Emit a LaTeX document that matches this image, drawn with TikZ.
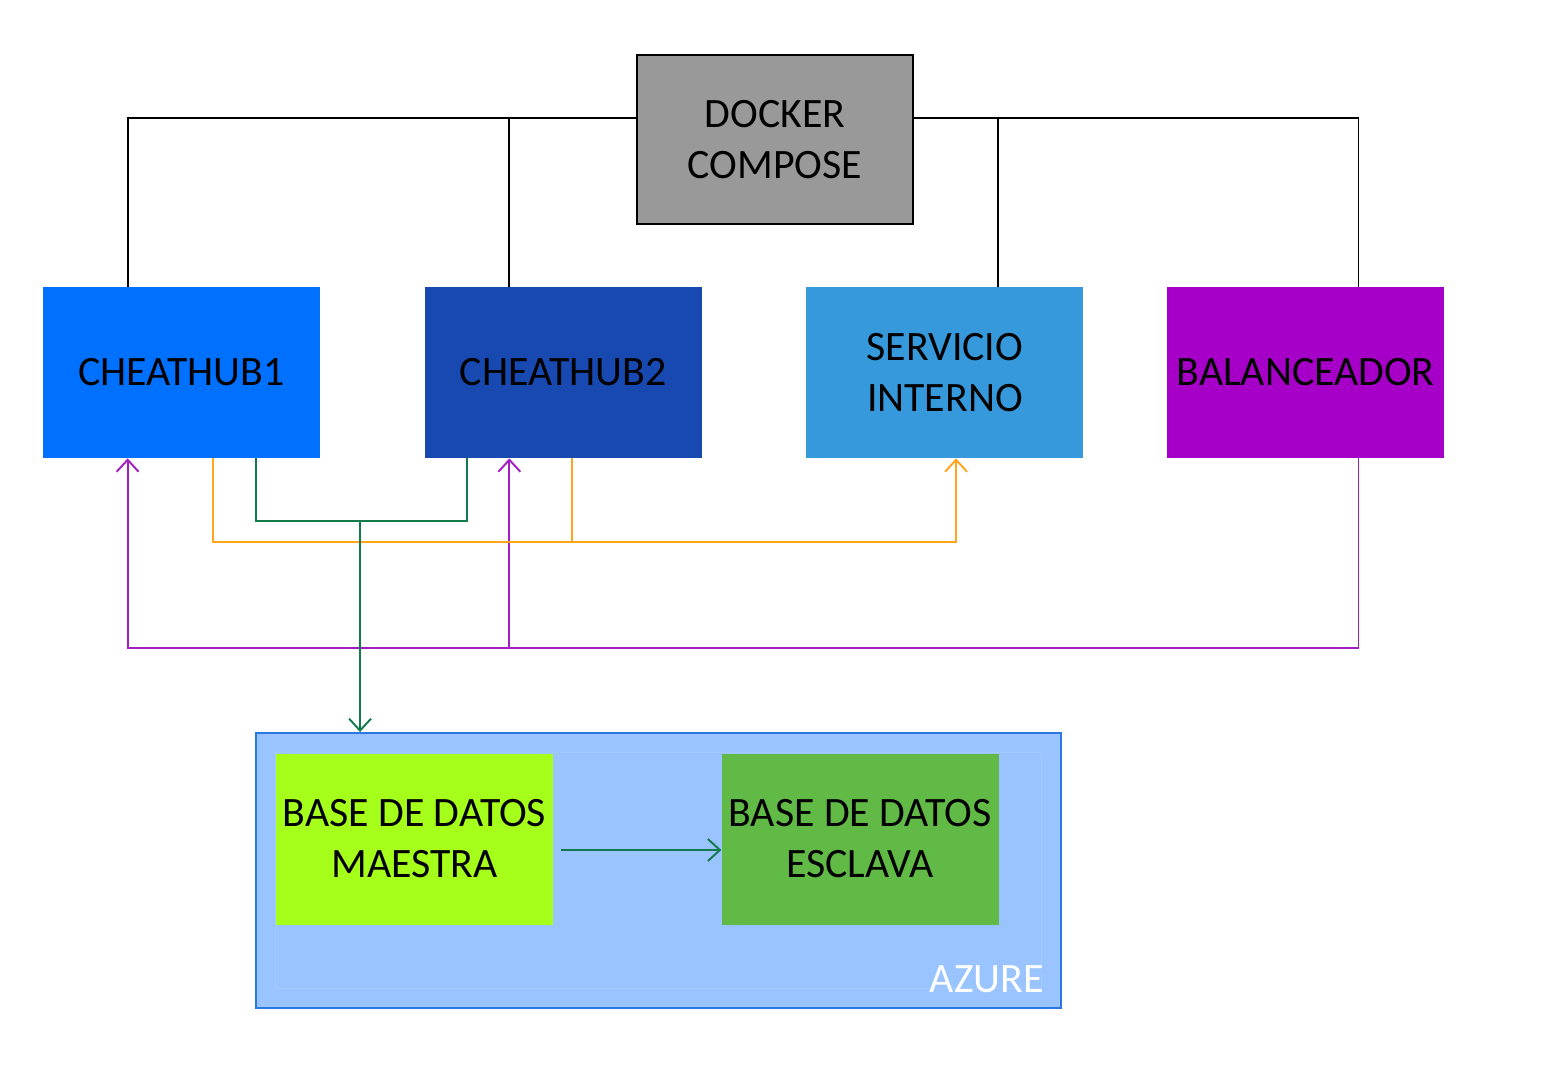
\documentclass[tikz,border=0pt]{standalone}
\usepackage{fontspec}
\setmainfont{Carlito}
\usepackage{xcolor}
\usetikzlibrary{positioning,arrows.meta}

\definecolor{dockergray}{HTML}{999999}
\definecolor{hubblue}{HTML}{0070FF}
\definecolor{hubdark}{HTML}{1749B0}
\definecolor{servblue}{HTML}{3599DB}
\definecolor{balpurple}{HTML}{A600C8}
\definecolor{azfill}{HTML}{99C4FF}
\definecolor{azborder}{HTML}{2A78E0}
\definecolor{azinner}{HTML}{A3CAFF}
\definecolor{maestragreen}{HTML}{A6FF1A}
\definecolor{esclavagreen}{HTML}{62BA46}
\definecolor{dbgreen}{HTML}{137A4B}
\definecolor{svorange}{HTML}{FFA51E}
\definecolor{lbpurple}{HTML}{A21EC4}

\begin{document}
\begin{tikzpicture}[
  box/.style={minimum width=5.54cm, minimum height=3.42cm, align=center,
    inner sep=0pt, font=\fontsize{23.8}{29}\selectfont},
  link/.style={draw=black, line width=1.1pt},
  dbline/.style={draw=dbgreen, line width=1.1pt},
  svline/.style={draw=svorange, line width=1.1pt},
  lbline/.style={draw=lbpurple, line width=1.1pt},
  tip/.style={-{Straight Barb[length=0.24cm,width=0.44cm]}}
]
  \useasboundingbox (0,0) rectangle (30.96,-21.5);

  \node[box, fill=dockergray, draw=black, line width=1.1pt,
    minimum width=5.52cm, minimum height=3.38cm] (docker) at (15.5,-2.79) {DOCKER\\COMPOSE};
  \node[box, fill=hubblue] (hub1) at (3.63,-7.45) {CHEATHUB1};
  \node[box, fill=hubdark, right=2.08cm of hub1] (hub2) {CHEATHUB2};
  \node[box, fill=servblue, right=2.08cm of hub2] (serv) {SERVICIO\\INTERNO};
  \node[box, fill=balpurple, right=1.66cm of serv] (bal) {BALANCEADOR};

  \node[fill=azfill, draw=azborder, line width=1.1pt,
    minimum width=16.1cm, minimum height=5.5cm] (azure) at (13.17,-17.41) {};
  \draw[azinner, line width=0.5pt] ([shift={(0.4,-0.4)}]azure.north west)
    rectangle ([shift={(-0.42,0.42)}]azure.south east);
  \node[box, fill=maestragreen] (maestra) at (8.29,-16.78) {BASE DE DATOS\\MAESTRA};
  \node[box, fill=esclavagreen, right=3.36cm of maestra] (esclava) {BASE DE DATOS\\ESCLAVA};
  \node[anchor=east, inner sep=0pt, text=white, font=\fontsize{23.8}{29}\selectfont]
    (azlabel) at ([xshift=-0.36cm, yshift=0.6cm]azure.south east) {AZURE};

  % docker compose
  \draw[link] ([yshift=0.43cm]docker.west) -| ([xshift=1.7cm]hub1.north west);
  \draw[link] ([xshift=1.7cm]hub2.north west) |- ([yshift=0.43cm]docker.west);
  \draw[link] ([yshift=0.43cm]docker.east) -| ([xshift=-1.72cm]bal.north east);
  \draw[link] ([xshift=-1.72cm]serv.north east) |- ([yshift=0.43cm]docker.east);

  % balanceador
  \coordinate (h1in) at ([xshift=1.7cm]hub1.south west);
  \coordinate (h2in) at ([xshift=1.7cm]hub2.south west);
  \coordinate (lbrun) at ([yshift=-3.8cm]h1in);
  \draw[lbline, tip] ([xshift=-1.72cm]bal.south east) -- ++(0,-3.8) -| (h1in);
  \draw[lbline, tip] (h2in |- lbrun) -- (h2in);

  % servicio interno
  \draw[svline, tip] ([xshift=3.4cm]hub1.south west) -- ++(0,-1.68) -| ([xshift=3cm]serv.south west);
  \draw[svline] ([xshift=2.96cm]hub2.south west) -- ++(0,-1.68);

  % base de datos
  \coordinate (gbus) at ([xshift=4.26cm, yshift=-1.26cm]hub1.south west);
  \coordinate (dbin) at ([xshift=2.1cm]azure.north west);
  \draw[dbline] ([xshift=4.26cm]hub1.south west) -- (gbus) -| ([xshift=0.86cm]hub2.south west);
  \draw[dbline, tip] (dbin |- gbus) -- (dbin);
  \draw[dbline, tip] ([xshift=0.16cm, yshift=-0.22cm]maestra.east) -- ([yshift=-0.22cm]esclava.west);
\end{tikzpicture}
\end{document}
